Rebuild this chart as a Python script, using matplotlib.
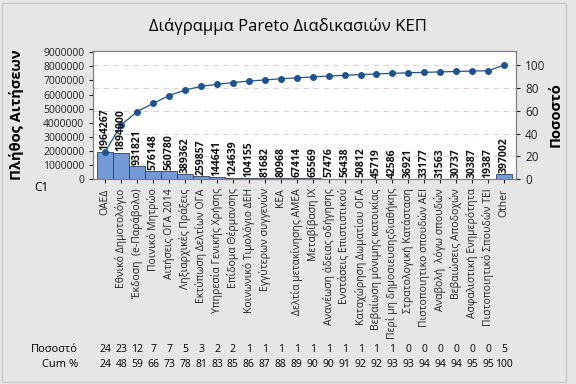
import matplotlib
matplotlib.use("Agg")
import matplotlib.pyplot as plt
from matplotlib.patches import Rectangle
from matplotlib.transforms import blended_transform_factory
import numpy as np

plt.rcParams['font.family'] = ['Open Sans', 'DejaVu Sans']

categories = [
    "ΟΑΕΔ", "Εθνικό Δημοτολόγιο", "Έκδοση  (e-Παράβολο)", "Ποινικό Μητρώο",
    "Αιτήσεις ΟΓΑ 2014", "Ληξιαρχικές Πράξεις", "Εκτύπωση Δελτίων ΟΓΑ",
    "Υπηρεσία Γενικής Χρήσης", "Επίδομα Θέρμανσης", "Κοινωνικό Τιμολόγιο ΔΕΗ",
    "Εγγύτερων συγγενών", "ΚΕΑ", "Δελτία μετακίνησης ΑΜΕΑ", "Μεταβίβαση ΙΧ",
    "Ανανέωση άδειας οδήγησης", "Ενστάσεις Επιστιστικού",
    "Καταχώρηση Δωματίου ΟΓΑ", "Βεβαίωση μόνιμης κατοικίας",
    "Περί μη δημοσιευσηςδιαθήκης", "Στρατολογική Κατάσταση",
    "Πιστοποιητικο σπουδών ΑΕΙ", "Αναβολή  λόγω σπουδών",
    "Βεβαιώσεις Αποδοχών", "Ασφαλιστική Ενημερότητα",
    "Πιστοποιητικό Σπουδών ΤΕΙ", "Other",
]
counts = [
    1964267, 1894000, 931821, 576148, 560780, 389362, 259857, 144641,
    124639, 104155, 81682, 80968, 67414, 65569, 57476, 56438, 50812,
    45719, 42586, 36921, 33177, 31563, 30737, 30387, 19387, 397002,
]

counts = np.array(counts)
total = counts.sum()
cum = np.cumsum(counts)
pct = np.round(counts / total * 100).astype(int)
cum_pct = np.round(cum / total * 100).astype(int)
x = np.arange(len(counts))

bg = "#e6e6e6"
fig = plt.figure(figsize=(5.76, 3.84), dpi=100, facecolor=bg)
fig.patches.append(Rectangle((0.004, 0.006), 0.979, 0.985, transform=fig.transFigure,
                             fill=False, edgecolor="#c8c8c8", lw=1))
ax = fig.add_axes([0.162, 0.533, 0.734, 0.335])
ax.set_facecolor("white")

ymax = 9.1e6
ax2 = ax.twinx()
ax.set_ylim(0, ymax)
ax2.set_ylim(0, ymax / total * 100)
ax.set_xlim(-0.75, len(counts) - 0.25)

ax2.set_yticks([0, 20, 40, 60, 80, 100])
ax2.grid(axis="y", linestyle=(0, (5, 4)), color="#e2d2d2", lw=0.8)
ax2.tick_params(axis="y", labelsize=8.5, length=3, colors="#222222")
ax2.set_ylabel("Ποσοστό", fontsize=10.5, fontweight="bold", labelpad=2)

ax.bar(x, counts, width=1.0, color="#7399d6", edgecolor="#2f3f5c", lw=0.6, zorder=2)
ax.plot(x, cum, color="#1f5390", lw=0.9, marker="o", markersize=4, zorder=3)
for xi, c in zip(x, counts):
    ax.text(xi, c + 0.08e6, str(c), rotation=90, ha="center", va="bottom",
            fontsize=7.5, fontweight="bold", color="#111111", zorder=4)

ax.set_yticks(np.arange(0, 9000001, 1000000))
ax.set_yticklabels([str(v) for v in range(0, 9000001, 1000000)])
ax.tick_params(axis="y", labelsize=7.5, length=3, colors="#222222")
ax.set_ylabel("Πλήθος Αιτήσεων", fontsize=10.5, fontweight="bold", labelpad=14)
ax.set_xticks(x)
ax.set_xticklabels(categories, rotation=90, fontsize=7.5)
ax.tick_params(axis="x", length=3, colors="#222222")
ax.set_zorder(ax2.get_zorder() + 1)
ax.patch.set_visible(False)
ax2.patch.set_visible(True)
ax2.patch.set_facecolor("white")
for a in (ax, ax2):
    for s in a.spines.values():
        s.set_color("#7f7f7f")
        s.set_linewidth(0.8)

fig.text(0.5, 0.93, "Διάγραμμα Pareto Διαδικασιών ΚΕΠ", ha="center", va="center",
         fontsize=12)
fig.text(0.072, 0.512, "C1", ha="center", va="center", fontsize=8.5)

tr = blended_transform_factory(ax.transData, fig.transFigure)
fig.text(0.135, 0.09, "Ποσοστό", ha="right", va="center", fontsize=8)
fig.text(0.135, 0.052, "Cum %", ha="right", va="center", fontsize=8)
for xi, p, cp in zip(x, pct, cum_pct):
    ax.text(xi, 0.09, str(p), transform=tr, ha="center", va="center", fontsize=7.5)
    ax.text(xi, 0.052, str(cp), transform=tr, ha="center", va="center", fontsize=7.5)

fig.savefig("out.png", dpi=100, facecolor=bg)
